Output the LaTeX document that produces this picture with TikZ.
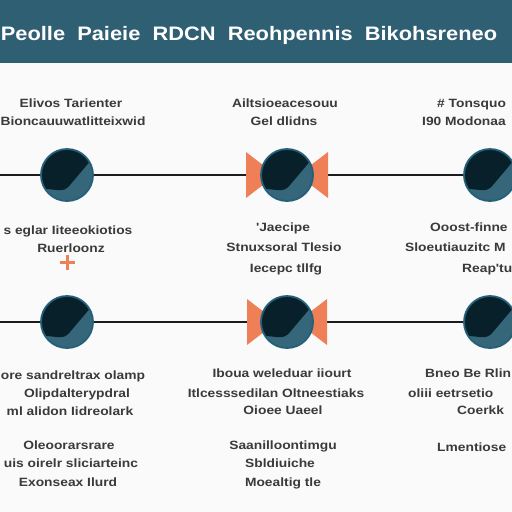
\documentclass[tikz,border=0pt]{standalone}
\usepackage{fontspec}
\setmainfont{Liberation Sans}
\newfontfamily\lblfont{Liberation Sans}[FakeStretch=1.15]
\newfontfamily\ttlfont{Liberation Sans}[FakeStretch=1.12]
\usetikzlibrary{backgrounds}
\definecolor{bgc}{HTML}{FAFAFA}
\definecolor{hdr}{HTML}{2F5F73}
\definecolor{ringc}{HTML}{24607A}
\definecolor{darkc}{HTML}{08202A}
\definecolor{tealc}{HTML}{356679}
\definecolor{bowc}{HTML}{EE7F57}
\definecolor{txtc}{HTML}{3A3A3A}
\definecolor{linec}{HTML}{1C1C1C}
\tikzset{
  disc/.style={circle, minimum size=52pt, inner sep=0pt, draw=ringc, line width=1.8pt,
    path picture={
      \begin{scope}[shift={(path picture bounding box.center)}]
        \fill[tealc] (-30,-30) rectangle (30,30);
        \fill[darkc] (-40,12) -- (-10,15) .. controls (-4,16) and (0,14) .. (3,10) -- (30,-22) -- (30,-40) -- (-40,-40) -- cycle;
      \end{scope}}},
  conn/.style={draw=linec, line width=2.8pt},
  bow/.style={fill=bowc},
  lbl/.style={font=\lblfont\fontsize{12}{14}\bfseries\selectfont, text=txtc, inner sep=0pt, anchor=base},
  lblw/.style={lbl, anchor=base west},
  ttl/.style={font=\ttlfont\fontsize{19.5}{22}\bfseries\selectfont, text=white, inner sep=0pt, anchor=base},
}
\begin{document}
\begin{tikzpicture}[x=1pt,y=-1pt]
\useasboundingbox (0,0) rectangle (512,512);
\begin{scope}[on background layer]
  \fill[bgc] (0,0) rectangle (512,512);
\end{scope}
\fill[hdr] (0,0) rectangle (512,63);
\node[ttl] (title) at (249,40) {Peolle\ \ Paieie\ \ RDCN\ \ Reohpennis\ \ Bikohsreneo};

% bowties
\fill[bow] (246,152) -- (246,198) -- (276,175) -- cycle;
\fill[bow] (328,152) -- (328,198) -- (298,175) -- cycle;
\fill[bow] (247,299) -- (247,345) -- (277,322) -- cycle;
\fill[bow] (327,299) -- (327,345) -- (297,322) -- cycle;

% discs
\node[disc] (c11) at (67,175) {};
\node[disc] (c12) at (287,175) {};
\node[disc] (c13) at (490,175) {};
\node[disc] (c21) at (67,322) {};
\node[disc] (c22) at (287,322) {};
\node[disc] (c23) at (490,322) {};

\coordinate (e1) at (0,175);
\coordinate (e2) at (0,322);
\begin{scope}[on background layer]
  \draw[conn] (e1) -- (c11);
  \draw[conn] (c11) -- (c12);
  \draw[conn] (c12) -- (c13);
  \draw[conn] (e2) -- (c21);
  \draw[conn] (c21) -- (c22);
  \draw[conn] (c22) -- (c23);
\end{scope}

% plus
\draw[bowc, line width=3pt] (59.5,262) -- (74.5,262) (67,254.5) -- (67,269.5);

% row 1 top labels
\node[lbl] (a1) at (71,107) {Elivos Tarienter};
\node[lbl] (a2) at (73,125) {Bioncauuwatlitteixwid};
\node[lbl] (b1) at (285,107) {Ailtsioeacesouu};
\node[lbl] (b2) at (284,125) {Gel dlidns};
\node[lblw] (c1) at (437,107) {\# Tonsquo};
\node[lblw] (c2) at (422,125) {I90 Modonaa};

% row 1 lower labels
\node[lbl] (d1) at (68,234) {s eglar Iiteeokiotios};
\node[lbl] (d2) at (71,252) {Ruerloonz};
\node[lbl] (e1t) at (283,231) {'Jaecipe};
\node[lbl] (e2t) at (284,251) {Stnuxsoral Tlesio};
\node[lbl] (e3t) at (286,272) {Iecepc tllfg};
\node[lblw] (f1) at (430,231) {Ooost-finne};
\node[lblw] (f2) at (405,251) {Sloeutiauzitc M};
\node[lblw] (f3) at (462,272) {Reap'tu};

% row 2 lower labels
\node[lbl] (g1) at (73,379) {ore sandreltrax olamp};
\node[lbl] (g2) at (77,397) {Olipdalterypdral};
\node[lbl] (g3) at (70,415) {ml alidon Iidreolark};
\node[lbl] (g4) at (69,449) {Oleoorarsrare};
\node[lbl] (g5) at (71,467) {uis oirelr sliciarteinc};
\node[lbl] (g6) at (68,486) {Exonseax Ilurd};
\node[lbl] (h1) at (282,377) {Iboua weleduar iiourt};
\node[lbl] (h2) at (276,397) {Itlcesssedilan Oltneestiaks};
\node[lbl] (h3) at (283,414) {Oioee Uaeel};
\node[lbl] (h4) at (283,449) {Saanilloontimgu};
\node[lbl] (h5) at (280,467) {Sbldiuiche};
\node[lbl] (h6) at (283,486) {Moealtig tle};
\node[lblw] (i1) at (425,377) {Bneo Be Rlin};
\node[lblw] (i2) at (408,397) {oliii eetrsetio};
\node[lblw] (i3) at (457,414) {Coerkk};
\node[lblw] (i4) at (437,451) {Lmentiose};
\end{tikzpicture}
\end{document}
